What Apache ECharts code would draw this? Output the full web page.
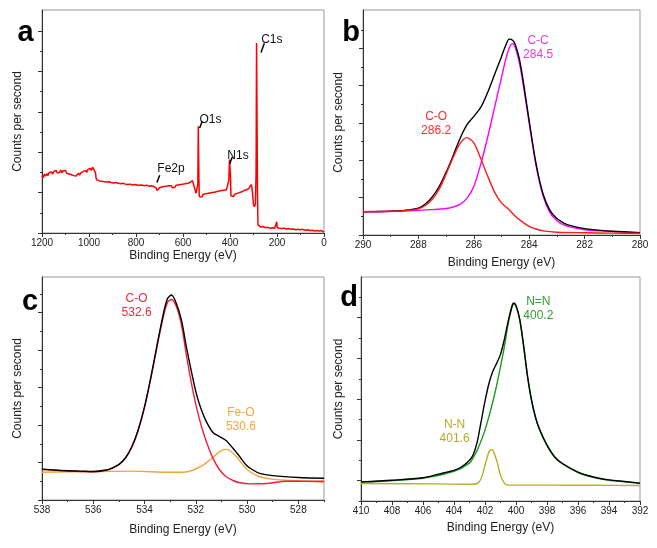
<!DOCTYPE html>
<html>
<head>
<meta charset="utf-8">
<script src="https://cdn.jsdelivr.net/npm/echarts@6/dist/echarts.min.js"></script>
<style>html,body{margin:0;padding:0;background:#fff}#c{width:657px;height:548px}</style>
</head>
<body>
<div id="c"></div>
<script>
// ---------- DATA ----------
// (a) survey spectrum [binding energy, counts (arb.)]
const survey = [
[1200,1.42],[1195,1.37],[1190,1.46],[1185,1.41],[1180,1.47],[1175,1.42],[1170,1.49],[1165,1.45],[1160,1.51],[1155,1.46],
[1150,1.52],[1145,1.48],[1140,1.55],[1135,1.49],[1130,1.53],[1125,1.50],[1120,1.56],[1115,1.49],[1110,1.54],[1105,1.51],
[1100,1.55],[1095,1.48],[1090,1.52],[1085,1.46],[1080,1.50],[1075,1.44],[1070,1.47],[1065,1.42],[1060,1.46],[1055,1.41],
[1050,1.45],[1045,1.48],[1040,1.43],[1035,1.49],[1030,1.46],[1025,1.52],[1020,1.48],[1015,1.55],[1010,1.50],[1005,1.57],
[1000,1.53],[995,1.60],[990,1.55],[985,1.63],[980,1.58],[975,1.62],[972,1.48],[970,1.36],[965,1.31],[960,1.35],
[955,1.29],[950,1.33],[945,1.28],[940,1.32],[935,1.27],[930,1.31],[925,1.26],[920,1.30],[915,1.27],[910,1.31],
[905,1.25],[900,1.29],[895,1.24],[890,1.28],[885,1.25],[880,1.29],[875,1.23],[870,1.27],[865,1.22],[860,1.26],
[855,1.23],[850,1.27],[845,1.21],[840,1.25],[835,1.20],[830,1.24],[825,1.21],[820,1.25],[815,1.19],[810,1.23],
[805,1.20],[800,1.24],[795,1.19],[790,1.23],[785,1.18],[780,1.22],[775,1.19],[770,1.23],[765,1.17],[760,1.21],
[755,1.18],[750,1.22],[745,1.16],[740,1.20],[735,1.17],[730,1.21],[725,1.15],[720,1.19],[715,1.12],[710,1.05],
[705,1.08],[700,1.12],[695,1.09],[690,1.14],[685,1.10],[680,1.15],[675,1.11],[670,1.16],[665,1.12],[660,1.17],
[655,1.13],[650,1.17],[645,1.12],[640,1.16],[635,1.13],[630,1.18],[625,1.14],[620,1.19],[615,1.15],[610,1.20],
[605,1.16],[600,1.21],[595,1.17],[590,1.22],[585,1.18],[580,1.23],[575,1.20],[570,1.25],[565,1.23],[560,1.30],
[555,1.26],[550,1.10],[545,0.98],[540,1.00],[537,1.20],[535,2.64],[533,1.60],[531,0.95],[530,0.90],[525,0.94],
[520,0.89],[515,0.95],[510,0.91],[505,0.97],[500,0.93],[495,0.98],[490,0.94],[485,0.99],[480,0.95],[475,1.00],
[470,0.96],[465,1.01],[460,0.98],[455,1.03],[450,0.99],[445,1.04],[440,1.00],[435,1.05],[430,1.01],[425,1.06],
[420,1.02],[415,1.07],[410,1.05],[405,1.30],[402,1.82],[400,1.80],[398,1.40],[396,0.92],[393,0.88],[390,0.94],
[385,0.90],[380,0.96],[375,0.92],[370,0.98],[365,0.94],[360,1.00],[355,0.97],[350,1.02],[345,0.99],[340,1.05],
[335,1.01],[330,1.07],[325,1.04],[320,1.10],[315,1.08],[310,1.20],[307,1.15],[303,0.90],[300,0.70],[296,0.65],
[292,0.72],[289,1.50],[287,4.70],[285,4.70],[283,1.00],[281,0.20],[278,0.17],[270,0.15],[260,0.16],[250,0.13],
[240,0.14],[230,0.12],[220,0.13],[210,0.12],[203,0.13],[201,0.28],[199,0.13],[190,0.12],[180,0.11],[170,0.12],
[160,0.10],[150,0.11],[140,0.09],[130,0.10],[120,0.08],[110,0.09],[100,0.08],[90,0.09],[80,0.07],[70,0.08],
[60,0.06],[50,0.07],[40,0.05],[30,0.06],[20,0.05],[10,0.06],[5,0.04],[0,0.02]
];
const surveyPeaks = ['C1s','O1s','N1s','Fe2p'];
const surveyLabelPos = [[222,4.78],[483,2.81],[366,1.91],[651,1.59]];
const surveyArrows = [[[254,4.70],[268,4.47]],[[518,2.77],[529,2.60]],[[390,1.88],[402,1.71]],[[699,1.43],[711,1.25]]];

// (b) C1s
const bTotal = [[290,0.625],[289.5,0.63],[289,0.64],[288.5,0.66],[288,0.72],[287.75,0.83],[287.5,1.02],[287.25,1.3],[287,1.68],[286.75,2.12],[286.5,2.58],[286.25,2.95],[286,3.18],[285.75,3.42],[285.5,3.82],[285.25,4.3],[285,4.78],[284.85,5.08],[284.72,5.25],[284.6,5.22],[284.5,5.1],[284.35,4.7],[284.2,4.05],[284,3.05],[283.75,1.9],[283.5,1.1],[283.25,0.66],[283,0.44],[282.75,0.32],[282.5,0.25],[282,0.17],[281.5,0.13],[281,0.1],[280,0.065]];
const bCO = [[290,0.625],[289.5,0.63],[289,0.635],[288.5,0.65],[288,0.7],[287.75,0.79],[287.5,0.96],[287.25,1.23],[287,1.63],[286.75,2.07],[286.5,2.45],[286.25,2.61],[286,2.47],[285.75,2.05],[285.5,1.58],[285.25,1.15],[285,0.86],[284.75,0.7],[284.5,0.5],[284.25,0.35],[284,0.23],[283.75,0.16],[283.5,0.11],[283,0.075],[282,0.06],[281,0.05],[280,0.045]];
const bCC = [[290,0.625],[289,0.63],[288,0.66],[287.5,0.68],[287,0.71],[286.75,0.75],[286.5,0.82],[286.25,0.98],[286,1.3],[285.75,1.9],[285.5,2.62],[285.25,3.42],[285,4.22],[284.85,4.7],[284.7,5.05],[284.6,5.13],[284.5,5.02],[284.35,4.6],[284.2,3.95],[284,3.0],[283.75,1.85],[283.5,1.05],[283.25,0.6],[283,0.38],[282.75,0.27],[282.5,0.21],[282,0.14],[281.5,0.11],[281,0.09],[280,0.06]];

// (c) O1s
const cTotal = [[538,0.83],[537.5,0.8],[537,0.78],[536.5,0.77],[536,0.76],[535.5,0.8],[535.25,0.86],[535,0.95],[534.75,1.12],[534.5,1.42],[534.25,1.87],[534,2.49],[533.75,3.29],[533.5,4.18],[533.25,5.02],[533.1,5.38],[532.95,5.47],[532.76,5.24],[532.56,4.8],[532.37,4.09],[532.17,3.42],[531.98,2.84],[531.78,2.4],[531.59,2.09],[531.33,1.8],[531.07,1.69],[530.81,1.58],[530.55,1.38],[530.29,1.16],[530.03,0.93],[529.77,0.8],[529.51,0.71],[529,0.65],[528,0.6],[527,0.58]];
const cCO = [[538,0.81],[537.5,0.79],[537,0.77],[536.5,0.76],[536,0.75],[535.5,0.79],[535.25,0.85],[535,0.94],[534.75,1.11],[534.5,1.4],[534.25,1.85],[534,2.47],[533.75,3.26],[533.5,4.13],[533.25,4.94],[533.1,5.28],[532.95,5.35],[532.76,5.16],[532.56,4.67],[532.37,3.87],[532.17,3.11],[531.98,2.49],[531.78,1.96],[531.59,1.56],[531.33,1.11],[531.07,0.8],[530.81,0.62],[530.55,0.52],[530.29,0.46],[529.9,0.43],[529.25,0.44],[528.47,0.5],[527,0.5]];
const cFeO = [[538,0.74],[537,0.75],[535.75,0.76],[534.45,0.77],[533.02,0.74],[532.5,0.74],[532.1,0.8],[531.72,0.93],[531.33,1.14],[531.07,1.29],[530.87,1.35],[530.68,1.32],[530.42,1.16],[530.16,0.93],[529.9,0.76],[529.51,0.62],[528.99,0.55],[527.95,0.51],[527,0.47]];

// (d) N1s
const dTotal = [[410,0.47],[408,0.51],[406,0.57],[405,0.66],[404,0.75],[403.5,0.84],[403,1.0],[402.75,1.15],[402.5,1.45],[402.25,1.95],[402,2.45],[401.75,2.88],[401.5,3.18],[401.25,3.38],[401,3.6],[400.75,3.97],[400.5,4.42],[400.25,4.8],[400.15,4.86],[400,4.8],[399.75,4.44],[399.5,3.79],[399.25,3.05],[399,2.48],[398.75,2.07],[398.5,1.78],[398,1.37],[397.5,1.08],[397,0.92],[396,0.71],[395,0.59],[394,0.52],[393,0.48],[392,0.44]];
const dNdN = [[410,0.46],[406,0.56],[404,0.73],[403,0.93],[402.75,1.07],[402.5,1.25],[402.25,1.48],[402,1.74],[401.75,2.07],[401.5,2.43],[401.25,2.84],[401,3.3],[400.75,3.79],[400.5,4.36],[400.25,4.77],[400.15,4.83],[400,4.79],[399.75,4.43],[399.5,3.77],[399.25,3.04],[399,2.47],[398.75,2.06],[398.5,1.77],[398,1.36],[397.5,1.07],[397,0.91],[396,0.7],[395,0.58],[394,0.51],[393,0.47],[392,0.43]];
const dNN = [[410,0.43],[405,0.42],[403,0.41],[402.5,0.43],[402.25,0.55],[402,0.88],[401.75,1.2],[401.6,1.26],[401.5,1.25],[401.25,1.0],[401,0.63],[400.75,0.44],[400.5,0.39],[400,0.39],[398,0.39],[395,0.385],[392,0.38]];

// tick values
const aXMajor = [0,200,400,600,800,1000,1200], aXMinor = [100,300,500,700,900,1100];
const aYMajor = [0,1,2,3,4,5], aYMinor = [0.5,1.5,2.5,3.5,4.5];
const bXMajor = [280,282,284,286,288,290], bXMinor = [281,283,285,287,289];
const bYMajor = [0,1,2,3,4,5], bYMinor = [0.5,1.5,2.5,3.5,4.5,5.5];
const cXMajor = [528,530,532,534,536,538], cXMinor = [527,529,531,533,535,537];
const cYMajor = [0,1,2,3,4,5], cYMinor = [0.5,1.5,2.5,3.5,4.5,5.5];
const dXMajor = [392,394,396,398,400,402,404,406,408,410], dXMinor = [393,395,397,399,401,403,405,407,409];
const dYMajor = [0.5,1.5,2.5,3.5,4.5], dYMinor = [0,1,2,3,4,5];

// ---------- CHART ----------
const FF = '"Liberation Sans", Arial, Helvetica, sans-serif';
const AX = '#333';
const grids = [
  {left:42, top:10, width:282, height:223},
  {left:363, top:10, width:277, height:225},
  {left:42, top:277, width:282, height:223},
  {left:361, top:277, width:279, height:224}
].map(g => Object.assign(g, {show:true, borderColor:'#999', borderWidth:1, backgroundColor:'transparent'}));

const xAxes = [], yAxes = [];
function addAxes(g, xr, xMaj, xMin, xGap, yr, yMaj, yMin, yGap) {
  xAxes.push({gridIndex:g, type:'value', position:'bottom', min:xr[0], max:xr[1], inverse:true,
    name:'Binding Energy (eV)', nameLocation:'middle', nameGap:xGap,
    nameTextStyle:{fontSize:12, color:'#222', fontFamily:FF},
    axisLine:{show:true, onZero:false, lineStyle:{color:AX, width:1}},
    axisTick:{show:true, inside:false, length:4, customValues:xMaj, lineStyle:{color:AX, width:1}},
    axisLabel:{show:true, customValues:xMaj, fontSize:10, color:'#222', margin:5, fontFamily:FF,
      formatter: v => String(v)},
    splitLine:{show:false}});
  xAxes.push({gridIndex:g, type:'value', position:'bottom', min:xr[0], max:xr[1], inverse:true,
    axisLine:{show:false, onZero:false},
    axisTick:{show:true, inside:false, length:2, customValues:xMin, lineStyle:{color:AX, width:1}},
    axisLabel:{show:false}, splitLine:{show:false}});
  yAxes.push({gridIndex:g, type:'value', position:'left', min:yr[0], max:yr[1],
    name:'Counts per second', nameLocation:'middle', nameGap:yGap, nameRotate:90,
    nameTextStyle:{fontSize:12, color:'#222', fontFamily:FF},
    axisLine:{show:true, onZero:false, lineStyle:{color:AX, width:1}},
    axisTick:{show:true, inside:false, length:4, customValues:yMaj, lineStyle:{color:AX, width:1}},
    axisLabel:{show:false}, splitLine:{show:false}});
  yAxes.push({gridIndex:g, type:'value', position:'left', min:yr[0], max:yr[1],
    axisLine:{show:false, onZero:false},
    axisTick:{show:true, inside:false, length:2, customValues:yMin, lineStyle:{color:AX, width:1}},
    axisLabel:{show:false}, splitLine:{show:false}});
}
addAxes(0, [0,1200], aXMajor, aXMinor, 17, [0,5.52], aYMajor, aYMinor, 18);
addAxes(1, [280,290], bXMajor, bXMinor, 22, [0,6.03], bYMajor, bYMinor, 18);
addAxes(2, [527,538], cXMajor, cXMinor, 24, [0,5.95], cYMajor, cYMinor, 18);
addAxes(3, [392,410], dXMajor, dXMinor, 21, [0,5.5], dYMajor, dYMinor, 16);

function line(g, data, color, width, smooth, z, extra) {
  return Object.assign({type:'line', xAxisIndex:2*g, yAxisIndex:2*g, data:data, showSymbol:false, symbol:'none',
    smooth:smooth, lineStyle:{color:color, width:width}, z:z, silent:true}, extra || {});
}
function peakLabel(coord, text, color) {
  return {coord:coord, symbol:'circle', symbolSize:1, itemStyle:{color:'rgba(0,0,0,0)'},
    label:{show:true, position:'inside', formatter:text, color:color, fontSize:12, lineHeight:14, fontFamily:FF, align:'center'}};
}

const series = [
  line(0, survey, '#ff0000', 1.5, false, 2, {
    markPoint:{silent:true, animation:false, data: surveyPeaks.map((t,i)=>peakLabel(surveyLabelPos[i], t, '#111'))},
    markLine:{silent:true, animation:false, symbol:['none','arrow'], symbolSize:[0,7],
      lineStyle:{color:'#000', width:1.5, type:'solid'}, label:{show:false},
      data: surveyArrows.map(a=>[{coord:a[0]},{coord:a[1]}])}
  }),
  line(1, bCC, '#ff00ff', 1.4, 0.3, 2),
  line(1, bTotal, '#000000', 1.4, 0.3, 3),
  line(1, bCO, '#ff1a1a', 1.4, 0.3, 4, {
    markPoint:{silent:true, animation:false, data:[
      peakLabel([287.36,2.99], 'C-O\n286.2', '#ff2a2a'),
      peakLabel([283.68,5.02], 'C-C\n284.5', '#e23ee2')]}
  }),
  line(2, cFeO, '#f2a33a', 1.4, 0.3, 2),
  line(2, cCO, '#f0203a', 1.4, 0.3, 3),
  line(2, cTotal, '#000000', 1.4, 0.3, 4, {
    markPoint:{silent:true, animation:false, data:[
      peakLabel([534.31,5.19], 'C-O\n532.6', '#f0283c'),
      peakLabel([530.24,2.13], 'Fe-O\n530.6', '#f2a640')]}
  }),
  line(3, dNdN, '#1e9a1e', 1.4, 0.3, 2),
  line(3, dNN, '#b8b02a', 1.4, 0.3, 3),
  line(3, dTotal, '#000000', 1.4, 0.3, 4, {
    markPoint:{silent:true, animation:false, data:[
      peakLabel([398.56,4.72], 'N=N\n400.2', '#2e9e2e'),
      peakLabel([403.96,1.70], 'N-N\n401.6', '#b4aa2c')]}
  })
];

const letters = [['a',25.5,33],['b',351,33],['c',30,302],['d',349,298]];

const chart = echarts.init(document.getElementById('c'), null, {renderer:'canvas'});
chart.setOption({
  animation:false,
  backgroundColor:'#ffffff',
  textStyle:{fontFamily:FF},
  grid:grids,
  xAxis:xAxes,
  yAxis:yAxes,
  series:series,
  graphic: letters.map(l => ({type:'text', x:l[1], y:l[2], silent:true,
    style:{text:l[0], fill:'#000', font:'bold 29px ' + FF, textAlign:'center', textVerticalAlign:'middle', align:'center', verticalAlign:'middle'}}))
});
</script>
</body>
</html>
